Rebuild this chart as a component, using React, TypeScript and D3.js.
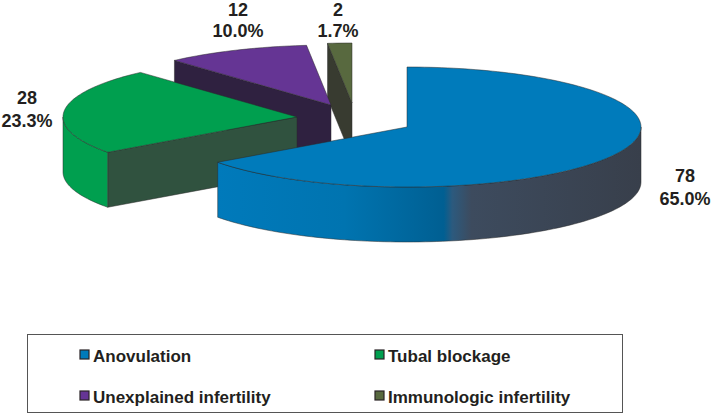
import React from "react";
import * as d3 from "d3";

const categories = ["Anovulation", "Tubal blockage", "Unexplained infertility", "Immunologic infertility"];
const values = [78, 28, 12, 2];
const percents = ["65.0%", "23.3%", "10.0%", "1.7%"];
const topColors = ["#007bbb", "#009f4f", "#653594", "#58693f"];
const faceColors = ["#00649a", "#30523f", "#2f2140", "#383b30"];
const swatchEdge = "#2a2326";

// layout (not data)
const RX = 234, RY = 60, DEPTH = 55;
const apexes = [[407, 127], [297, 117], [331, 105], [352, 103]];
const labelPos = [[685, 182, 205], [27, 104, 127], [238, 16, 37], [338, 16, 37]];
const legendPos = [[80, 362], [375, 362], [80, 403], [375, 403]];

const pie = d3.pie<number>().sort(null);
const arcs = pie(values);

const pt = (c: number[], a: number, dy = 0): [number, number] => [
  c[0] + RX * Math.sin(a),
  c[1] - RY * Math.cos(a) + dy,
];
const sample = (a0: number, a1: number) => {
  const n = Math.max(2, Math.ceil(Math.abs(a1 - a0) * 40));
  return d3.range(n + 1).map((i) => a0 + ((a1 - a0) * i) / n);
};
const line = d3.line();

const topPath = (c: number[], a0: number, a1: number) =>
  line([[c[0], c[1]], ...sample(a0, a1).map((a) => pt(c, a))])! + "Z";

const wallPath = (c: number[], a0: number, a1: number) => {
  const s = sample(a0, a1);
  return line([...s.map((a) => pt(c, a)), ...s.slice().reverse().map((a) => pt(c, a, DEPTH))])! + "Z";
};
const facePath = (c: number[], a: number) => {
  const p = pt(c, a);
  return line([[c[0], c[1]], p, [p[0], p[1] + DEPTH], [c[0], c[1] + DEPTH]])! + "Z";
};

const wallRange = (a0: number, a1: number): [number, number] | null => {
  const lo = Math.max(a0, Math.PI / 2);
  const hi = Math.min(a1, (3 * Math.PI) / 2);
  return hi > lo ? [lo, hi] : null;
};

const stroke = "#2b2b2b";
const font = "'Liberation Sans', Arial, sans-serif";

export default function App() {
  const order = [3, 2, 1, 0];
  return (
    <svg width={714} height={414} style={{ position: "absolute", left: 0, top: 0, background: "#fff" }}>
      <defs>
        <linearGradient id="blueWall" gradientUnits="userSpaceOnUse" x1={217} x2={641} y1={0} y2={0}>
          <stop offset="0" stopColor="#007abb" />
          <stop offset="0.3" stopColor="#0074b0" />
          <stop offset="0.46" stopColor="#00669c" />
          <stop offset="0.535" stopColor="#005f92" />
          <stop offset="0.555" stopColor="#2c5a7e" />
          <stop offset="0.6" stopColor="#3d4b5e" />
          <stop offset="1" stopColor="#383f4b" />
        </linearGradient>
      </defs>
      {order.map((i) => {
        const c = apexes[i];
        const d = arcs[i];
        const wr = wallRange(d.startAngle, d.endAngle);
        return (
          <g key={i}>
            {i !== 0 && (
              <path d={facePath(c, d.startAngle)} fill={faceColors[i]} stroke={stroke} strokeWidth={0.5} />
            )}
            {wr && (
              <path
                d={wallPath(c, wr[0], wr[1])}
                fill={i === 0 ? "url(#blueWall)" : topColors[i]}
                stroke={stroke}
                strokeWidth={0.5}
              />
            )}
            <path d={topPath(c, d.startAngle, d.endAngle)} fill={topColors[i]} stroke={stroke} strokeWidth={0.5} />
          </g>
        );
      })}
      {values.map((v, i) => (
        <g key={i} fontFamily={font} fontWeight="bold" fontSize={18} fill="#231f20" textAnchor="middle">
          <text x={labelPos[i][0]} y={labelPos[i][1]}>{v}</text>
          <text x={labelPos[i][0]} y={labelPos[i][2]}>{percents[i]}</text>
        </g>
      ))}
      <rect x={27.5} y={334.5} width={595} height={78} fill="none" stroke="#555" strokeWidth={1} />
      {categories.map((c, i) => (
        <g key={c}>
          <rect x={legendPos[i][0]} y={legendPos[i][1] - 12} width={9} height={9} fill={topColors[i]} stroke={swatchEdge} strokeWidth={1.2} />
          <text x={legendPos[i][0] + 13} y={legendPos[i][1]} fontFamily={font} fontWeight="bold" fontSize={17} fill="#231f20">{c}</text>
        </g>
      ))}
    </svg>
  );
}
